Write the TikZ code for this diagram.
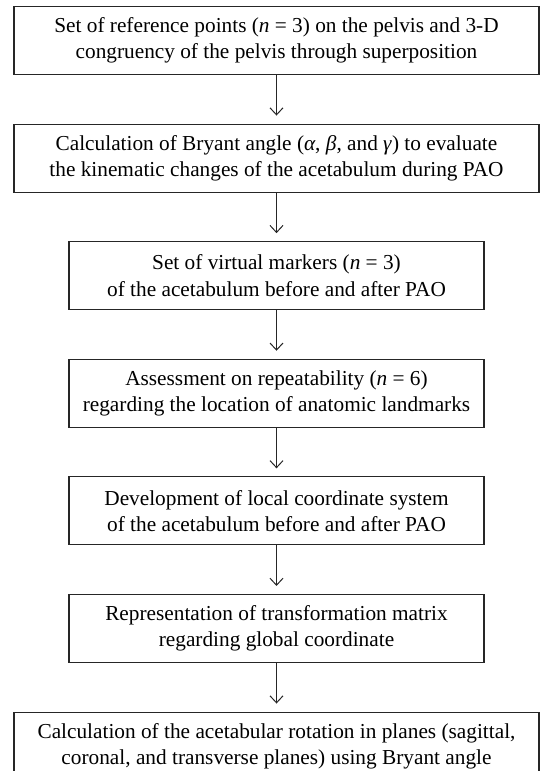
\documentclass[tikz,border=0pt]{standalone}
\usepackage{fontspec}
\setmainfont{Liberation Serif}
\usetikzlibrary{positioning,arrows.meta}

\begin{document}
\begin{tikzpicture}[x=1pt,y=1pt,node distance=48.5pt,
  stepbox/.style={draw=black!85,line width=1.1pt,minimum height=68pt,inner sep=0pt,align=center,font=\fontsize{21.3}{26.5}\selectfont},
  widebox/.style={stepbox,minimum width=525pt},
  midbox/.style={stepbox,minimum width=415pt},
  flow/.style={draw=black!85,line width=1pt,-{Straight Barb[length=7pt,width=13pt]},shorten >=8pt}]%
\useasboundingbox (0,0) rectangle (540,-771);%
% boxes, top to bottom
\node[widebox] (refpts) at (276.5,-40.5) {Set of reference points (\textit{n} = 3) on the pelvis and 3-D\\congruency of the pelvis through superposition};%
\node[widebox,below=of refpts] (bryant) {Calculation of Bryant angle (\textit{α}, \textit{β}, and \textit{γ}) to evaluate\\the kinematic changes of the acetabulum during PAO};%
\node[midbox,below=of bryant] (markers) {Set of virtual markers (\textit{n} = 3)\\of the acetabulum before and after PAO};%
\node[midbox,below=of markers] (repeat) {Assessment on repeatability (\textit{n} = 6)\\regarding the location of anatomic landmarks};%
\node[midbox,below=of repeat] (localcs) {Development of local coordinate system\\of the acetabulum before and after PAO};%
\node[midbox,below=of localcs] (matrix) {Representation of transformation matrix\\regarding global coordinate};%
\node[widebox,below=of matrix] (rotation) {Calculation of the acetabular rotation in planes (sagittal,\\coronal, and transverse planes) using Bryant angle};%
% connectors
\foreach \a/\b in {refpts/bryant,bryant/markers,markers/repeat,repeat/localcs,localcs/matrix,matrix/rotation}
  \draw[flow] (\a) -- (\b);%
\end{tikzpicture}
\end{document}
